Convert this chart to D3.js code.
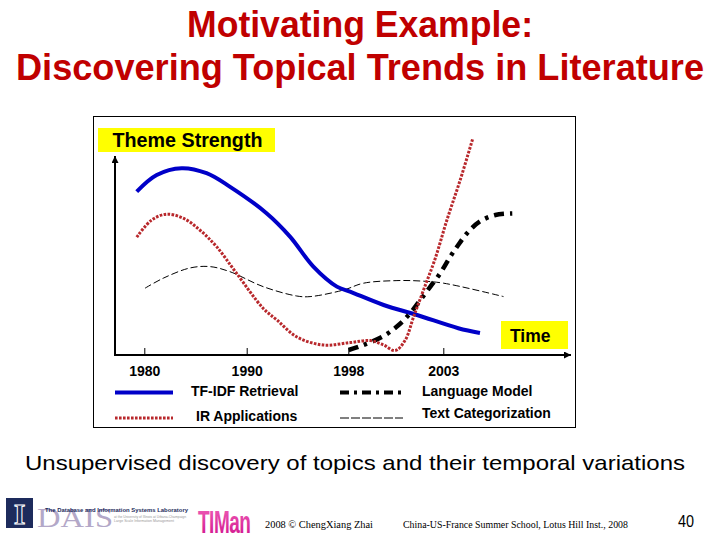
<!DOCTYPE html>
<html>
<head>
<meta charset="utf-8">
<script src="https://cdn.jsdelivr.net/npm/d3@7"></script>
<style>
    html, body { margin: 0; padding: 0; background: #fff; }
    svg { display: block; font-family: "Liberation Sans", Arial, sans-serif; }
</style>
</head>
<body>
<svg id="chart" width="720" height="540"></svg>
<script>
(function () {
    'use strict';

    // time axis
    var tickYears = [1980, 1990, 1998, 2003];
    var tickLabels = ['1980', '1990', '1998', '2003'];

    var seriesNames = ['TF-IDF Retrieval', 'IR Applications', 'Language Model', 'Text Categorization'];

    // TF-IDF Retrieval
    var tfidfYears = [1979.26, 1981.21, 1983.64, 1986.08, 1988.34, 1991.56, 1993.41, 1995.25, 1997.10, 1998.09, 1999.86, 2001.62, 2003.79, 2004.93];
    var tfidfValues = [81.7, 90, 93.4, 90.9, 84.2, 70.9, 59.2, 44.2, 34.2, 31.7, 25, 20, 13.4, 11];

    // IR Applications
    var irYears = [1979.26, 1980.72, 1982.18, 1983.80, 1985.42, 1987.05, 1989.00, 1991.29, 1992.38, 1993.96, 1996.02, 1998.09, 1999.16, 1999.86, 2000.47, 2001.00, 2001.44, 2001.96, 2002.58, 2003.19, 2003.89, 2004.56];
    var irValues = [58.9, 67.5, 70.4, 68.4, 62.5, 54.2, 40.9, 23.4, 17.5, 9, 5, 6.2, 7.2, 5, 2.2, 7.5, 19.2, 32.5, 48.4, 67.5, 87.5, 108.5];

    // Language Model
    var lmYears = [1998.02, 1998.79, 1999.86, 2000.65, 2001.26, 2001.79, 2002.32, 2002.84, 2003.37, 2003.75, 2004.25, 2004.91, 2005.74, 2006.63];
    var lmValues = [2.5, 5, 9.5, 15, 20.9, 27.5, 34.2, 40.9, 49.2, 54.5, 60.9, 66.7, 70, 70.8];

    // Text Categorization
    var tcYears = [1980.07, 1981.85, 1984.45, 1986.40, 1988.34, 1991.29, 1993.94, 1994.99, 1997.63, 1998.80, 2000.56, 2001.79, 2003.02, 2006.17];
    var tcValues = [33.4, 38.4, 43.5, 44.2, 41.7, 34.2, 29.5, 29.2, 32.5, 35.9, 37.2, 37, 35.9, 29.2];

    var styles = [
        { color: '#0000c8', width: 4, dash: null },
        { color: '#b8282c', width: 3, dash: '2.6,1.4' },
        { color: '#000', width: 4.5, dash: '10,6,3.5,6' },
        { color: '#000', width: 1, dash: '7,3' }
    ];

    var svg = d3.select('#chart');

    // title
    var titleLines = ['Motivating Example:', 'Discovering Topical Trends in Literature'];
    var titleLengths = [346, 688];
    svg.selectAll('text.title')
        .data(titleLines)
        .enter().append('text')
        .attr('class', 'title')
        .attr('x', 360)
        .attr('y', function (d, i) { return 37 + i * 43; })
        .attr('text-anchor', 'middle')
        .attr('textLength', function (d, i) { return titleLengths[i]; })
        .attr('lengthAdjust', 'spacingAndGlyphs')
        .style('font-size', '36px')
        .style('font-weight', 'bold')
        .style('fill', '#c00000')
        .text(function (d) { return d; });

    // chart frame
    svg.append('rect')
        .attr('x', 93.5).attr('y', 116.5)
        .attr('width', 482).attr('height', 311)
        .attr('fill', '#fff')
        .attr('stroke', '#000')
        .attr('stroke-width', 1);

    var plot = { left: 115, right: 571, top: 156, bottom: 355 };

    var x = d3.scaleLinear()
        .domain(tickYears)
        .range([144.3, 246.7, 348.3, 443.3]);
    var y = d3.scaleLinear()
        .domain([0, 100])
        .range([plot.bottom, plot.top - 1]);

    var defs = svg.append('defs');
    defs.append('marker')
        .attr('id', 'arrow')
        .attr('viewBox', '0 0 10 10')
        .attr('refX', 10).attr('refY', 5)
        .attr('markerUnits', 'userSpaceOnUse')
        .attr('markerWidth', 9).attr('markerHeight', 7)
        .attr('orient', 'auto')
        .append('path')
        .attr('d', 'M0,0L10,5L0,10z')
        .attr('fill', '#000');

    // axes
    svg.append('line')
        .attr('x1', plot.left).attr('y1', plot.bottom)
        .attr('x2', plot.left).attr('y2', plot.top)
        .attr('stroke', '#000').attr('stroke-width', 2)
        .attr('marker-end', 'url(#arrow)');
    svg.append('line')
        .attr('x1', plot.left - 1).attr('y1', plot.bottom)
        .attr('x2', plot.right).attr('y2', plot.bottom)
        .attr('stroke', '#000').attr('stroke-width', 2)
        .attr('marker-end', 'url(#arrow)');

    var xAxis = d3.axisBottom(x)
        .tickValues(tickYears)
        .tickFormat(function (d, i) { return tickLabels[i]; })
        .tickSizeInner(-7)
        .tickSizeOuter(0)
        .tickPadding(11);

    var axisG = svg.append('g')
        .attr('transform', 'translate(0,' + plot.bottom + ')')
        .call(xAxis);
    axisG.select('.domain').remove();
    axisG.selectAll('.tick line').attr('stroke', '#000').attr('stroke-width', 1);
    axisG.selectAll('.tick text')
        .attr('fill', '#000')
        .style('font-family', '"Liberation Sans", Arial, sans-serif')
        .style('font-size', '14px')
        .style('font-weight', 'bold');

    // curves
    var series = [
        { years: tfidfYears, values: tfidfValues },
        { years: irYears, values: irValues },
        { years: lmYears, values: lmValues },
        { years: tcYears, values: tcValues }
    ];

    var line = d3.line()
        .x(function (d) { return x(d[0]); })
        .y(function (d) { return y(d[1]); })
        .curve(d3.curveCatmullRom.alpha(0.5));

    var drawOrder = [3, 0, 2, 1];
    _each(drawOrder, function (k) {
        var s = series[k];
        var st = styles[k];
        var pts = d3.zip(s.years, s.values);
        svg.append('path')
            .attr('d', line(pts))
            .attr('fill', 'none')
            .attr('stroke', st.color)
            .attr('stroke-width', st.width)
            .attr('stroke-dasharray', st.dash)
            .attr('stroke-linejoin', 'round');
    });

    // axis captions
    svg.append('rect')
        .attr('x', 98).attr('y', 128)
        .attr('width', 177).attr('height', 24)
        .attr('fill', '#ffff00');
    svg.append('text')
        .attr('x', 112.5).attr('y', 146.5)
        .attr('textLength', 150)
        .attr('lengthAdjust', 'spacingAndGlyphs')
        .style('font-size', '19.5px')
        .style('font-weight', 'bold')
        .text('Theme Strength');

    svg.append('rect')
        .attr('x', 501).attr('y', 321)
        .attr('width', 67).attr('height', 28)
        .attr('fill', '#ffff00');
    svg.append('text')
        .attr('x', 510).attr('y', 342)
        .attr('textLength', 40.5)
        .attr('lengthAdjust', 'spacingAndGlyphs')
        .style('font-size', '17.5px')
        .style('font-weight', 'bold')
        .text('Time');

    // legend
    var legendPos = [
        { x1: 115, x2: 173, ly: 392.5, tx: 191, ty: 396 },
        { x1: 115, x2: 173, ly: 418, tx: 196, ty: 421 },
        { x1: 340, x2: 403, ly: 392.5, tx: 422, ty: 396 },
        { x1: 340, x2: 403, ly: 418, tx: 422, ty: 418 }
    ];
    var legendStyles = [
        styles[0],
        styles[1],
        { color: '#000', width: 4, dash: '9,5,3,5' },
        { color: '#000', width: 1, dash: '9,2' }
    ];
    _each(seriesNames, function (name, i) {
        var p = legendPos[i];
        var st = legendStyles[i];
        svg.append('line')
            .attr('x1', p.x1).attr('y1', p.ly)
            .attr('x2', p.x2).attr('y2', p.ly)
            .attr('stroke', st.color)
            .attr('stroke-width', st.width)
            .attr('stroke-dasharray', st.dash);
        svg.append('text')
            .attr('x', p.tx).attr('y', p.ty)
            .style('font-size', '14px')
            .style('font-weight', 'bold')
            .text(name);
    });

    // subtitle
    svg.append('text')
        .attr('x', 25).attr('y', 470)
        .attr('textLength', 660)
        .attr('lengthAdjust', 'spacingAndGlyphs')
        .style('font-size', '21px')
        .text('Unsupervised discovery of topics and their temporal variations');

    // footer logos
    var logo = svg.append('g');
    logo.append('rect')
        .attr('x', 6).attr('y', 498)
        .attr('width', 27).attr('height', 30)
        .attr('fill', '#1d2b5c');
    logo.append('text')
        .attr('x', 19.5).attr('y', 524)
        .attr('text-anchor', 'middle')
        .style('font-family', '"Liberation Serif", serif')
        .style('font-size', '30px')
        .style('font-weight', 'bold')
        .attr('fill', '#1d2b5c')
        .attr('stroke', '#fff')
        .attr('stroke-width', 1)
        .text('I');
    logo.append('text')
        .attr('x', 37).attr('y', 527)
        .attr('textLength', 76)
        .attr('lengthAdjust', 'spacingAndGlyphs')
        .style('font-family', '"Liberation Serif", serif')
        .style('font-size', '28px')
        .attr('fill', '#b3a8c8')
        .text('DAIS');
    logo.append('text')
        .attr('x', 45).attr('y', 512)
        .attr('textLength', 143)
        .attr('lengthAdjust', 'spacingAndGlyphs')
        .style('font-size', '6px')
        .style('font-weight', 'bold')
        .attr('fill', '#1d2b5c')
        .text('The Database and Information Systems Laboratory');
    logo.append('text')
        .attr('x', 114).attr('y', 518)
        .attr('textLength', 72)
        .attr('lengthAdjust', 'spacingAndGlyphs')
        .style('font-size', '3.5px')
        .attr('fill', '#999')
        .text('at the University of Illinois at Urbana-Champaign');
    logo.append('text')
        .attr('x', 114).attr('y', 522)
        .attr('textLength', 60)
        .attr('lengthAdjust', 'spacingAndGlyphs')
        .style('font-size', '3.5px')
        .attr('fill', '#999')
        .text('Large Scale Information Management');

    var grad = defs.append('linearGradient')
        .attr('id', 'timanGrad')
        .attr('x1', 0).attr('y1', 0).attr('x2', 0).attr('y2', 1);
    grad.append('stop').attr('offset', '0%').attr('stop-color', '#f060b8');
    grad.append('stop').attr('offset', '100%').attr('stop-color', '#d0108c');
    logo.append('text')
        .attr('transform', 'translate(198,533) scale(1,1.65)')
        .style('font-size', '19px')
        .style('font-weight', 'bold')
        .style('letter-spacing', '-0.5px')
        .attr('fill', 'url(#timanGrad)')
        .text('TIMan');

    // footer text
    svg.append('text')
        .attr('x', 265).attr('y', 528)
        .attr('textLength', 108)
        .attr('lengthAdjust', 'spacingAndGlyphs')
        .style('font-family', '"Liberation Serif", serif')
        .style('font-size', '10px')
        .text('2008 \u00a9 ChengXiang Zhai');
    svg.append('text')
        .attr('x', 403).attr('y', 528)
        .attr('textLength', 225)
        .attr('lengthAdjust', 'spacingAndGlyphs')
        .style('font-family', '"Liberation Serif", serif')
        .style('font-size', '10px')
        .text('China-US-France Summer School, Lotus Hill Inst., 2008');
    svg.append('text')
        .attr('x', 678).attr('y', 527)
        .attr('textLength', 16)
        .attr('lengthAdjust', 'spacingAndGlyphs')
        .style('font-size', '16px')
        .text('40');

    function _each(arr, fn) {
        for (var i = 0; i < arr.length; i++) {
            fn(arr[i], i);
        }
    }
}());
</script>
</body>
</html>
